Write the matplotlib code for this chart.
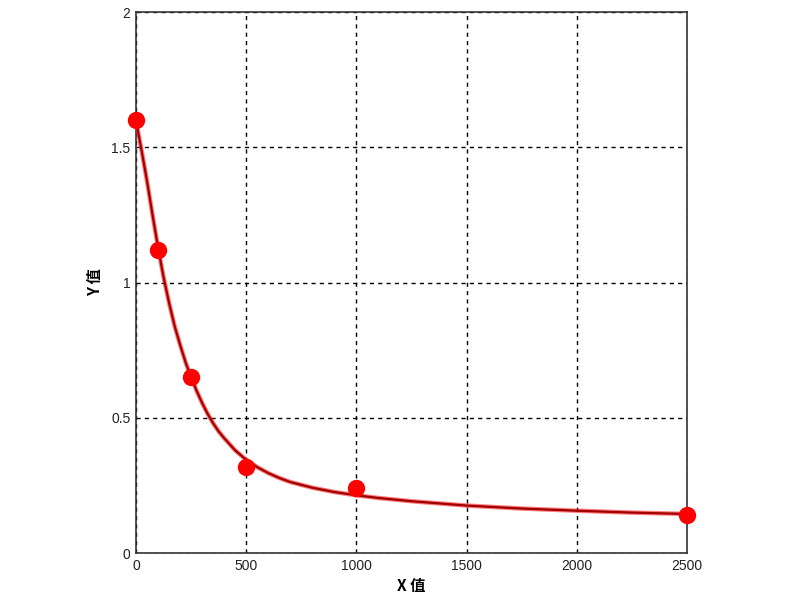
import matplotlib
matplotlib.use('Agg')
import matplotlib.pyplot as plt

# measured standard points
x_pts = [0, 100, 250, 500, 1000, 2500]
y_pts = [1.60, 1.12, 0.65, 0.32, 0.24, 0.14]

# fitted curve
x_curve = [0, 10, 25, 50, 75, 100, 125, 150, 175, 200, 225, 250, 275, 300, 325,
           350, 375, 400, 450, 500, 550, 600, 650, 700, 800, 900, 1000, 1100,
           1250, 1500, 1750, 2000, 2250, 2500]
y_curve = [1.60, 1.555, 1.49, 1.375, 1.25, 1.13, 1.02, 0.925, 0.84, 0.77, 0.705,
           0.65, 0.60, 0.555, 0.515, 0.48, 0.45, 0.425, 0.38, 0.345, 0.318, 0.296,
           0.278, 0.263, 0.242, 0.226, 0.214, 0.204, 0.192, 0.176, 0.165, 0.157,
           0.150, 0.145]

x_ticks = [0, 500, 1000, 1500, 2000, 2500]
y_ticks = [0, 0.5, 1, 1.5, 2]
y_tick_labels = ['0', '0.5', '1', '1.5', '2']

cjk = ['Noto Sans CJK SC', 'DejaVu Sans']

fig = plt.figure(figsize=(8, 6), dpi=100)
ax = fig.add_axes([0.17, 0.078, 0.689, 0.902])

# red halo + dark red core like the original
ax.plot(x_curve, y_curve, color='#ff2020', linewidth=3.2, alpha=0.6, zorder=3,
        solid_capstyle='round', solid_joinstyle='round')
ax.plot(x_curve, y_curve, color='#a00000', linewidth=1.6, zorder=3,
        solid_capstyle='round', solid_joinstyle='round')
ax.plot(x_pts, y_pts, 'o', color='#ff0000', markersize=11.5, zorder=4,
        clip_on=False)

ax.set_xlim(0, 2500)
ax.set_ylim(0, 2)
ax.set_xticks(x_ticks)
ax.set_xticklabels([str(t) for t in x_ticks])
ax.set_yticks(y_ticks)
ax.set_yticklabels(y_tick_labels)
ax.tick_params(length=0, labelsize=10, pad=4, colors='#222222')
for lab in ax.get_xticklabels() + ax.get_yticklabels():
    lab.set_family(['Liberation Sans', 'DejaVu Sans'])

ax.grid(True, color='black', linestyle=(0, (3, 3)), linewidth=1)
for s in ax.spines.values():
    s.set_color('#333333')
    s.set_linewidth(1.2)

ax.set_xlabel('X 值', family=cjk, fontweight='bold', fontsize=11, labelpad=4)
ax.set_ylabel('Y 值', family=cjk, fontweight='bold', fontsize=11, labelpad=6)

fig.savefig('out.png', dpi=100)
